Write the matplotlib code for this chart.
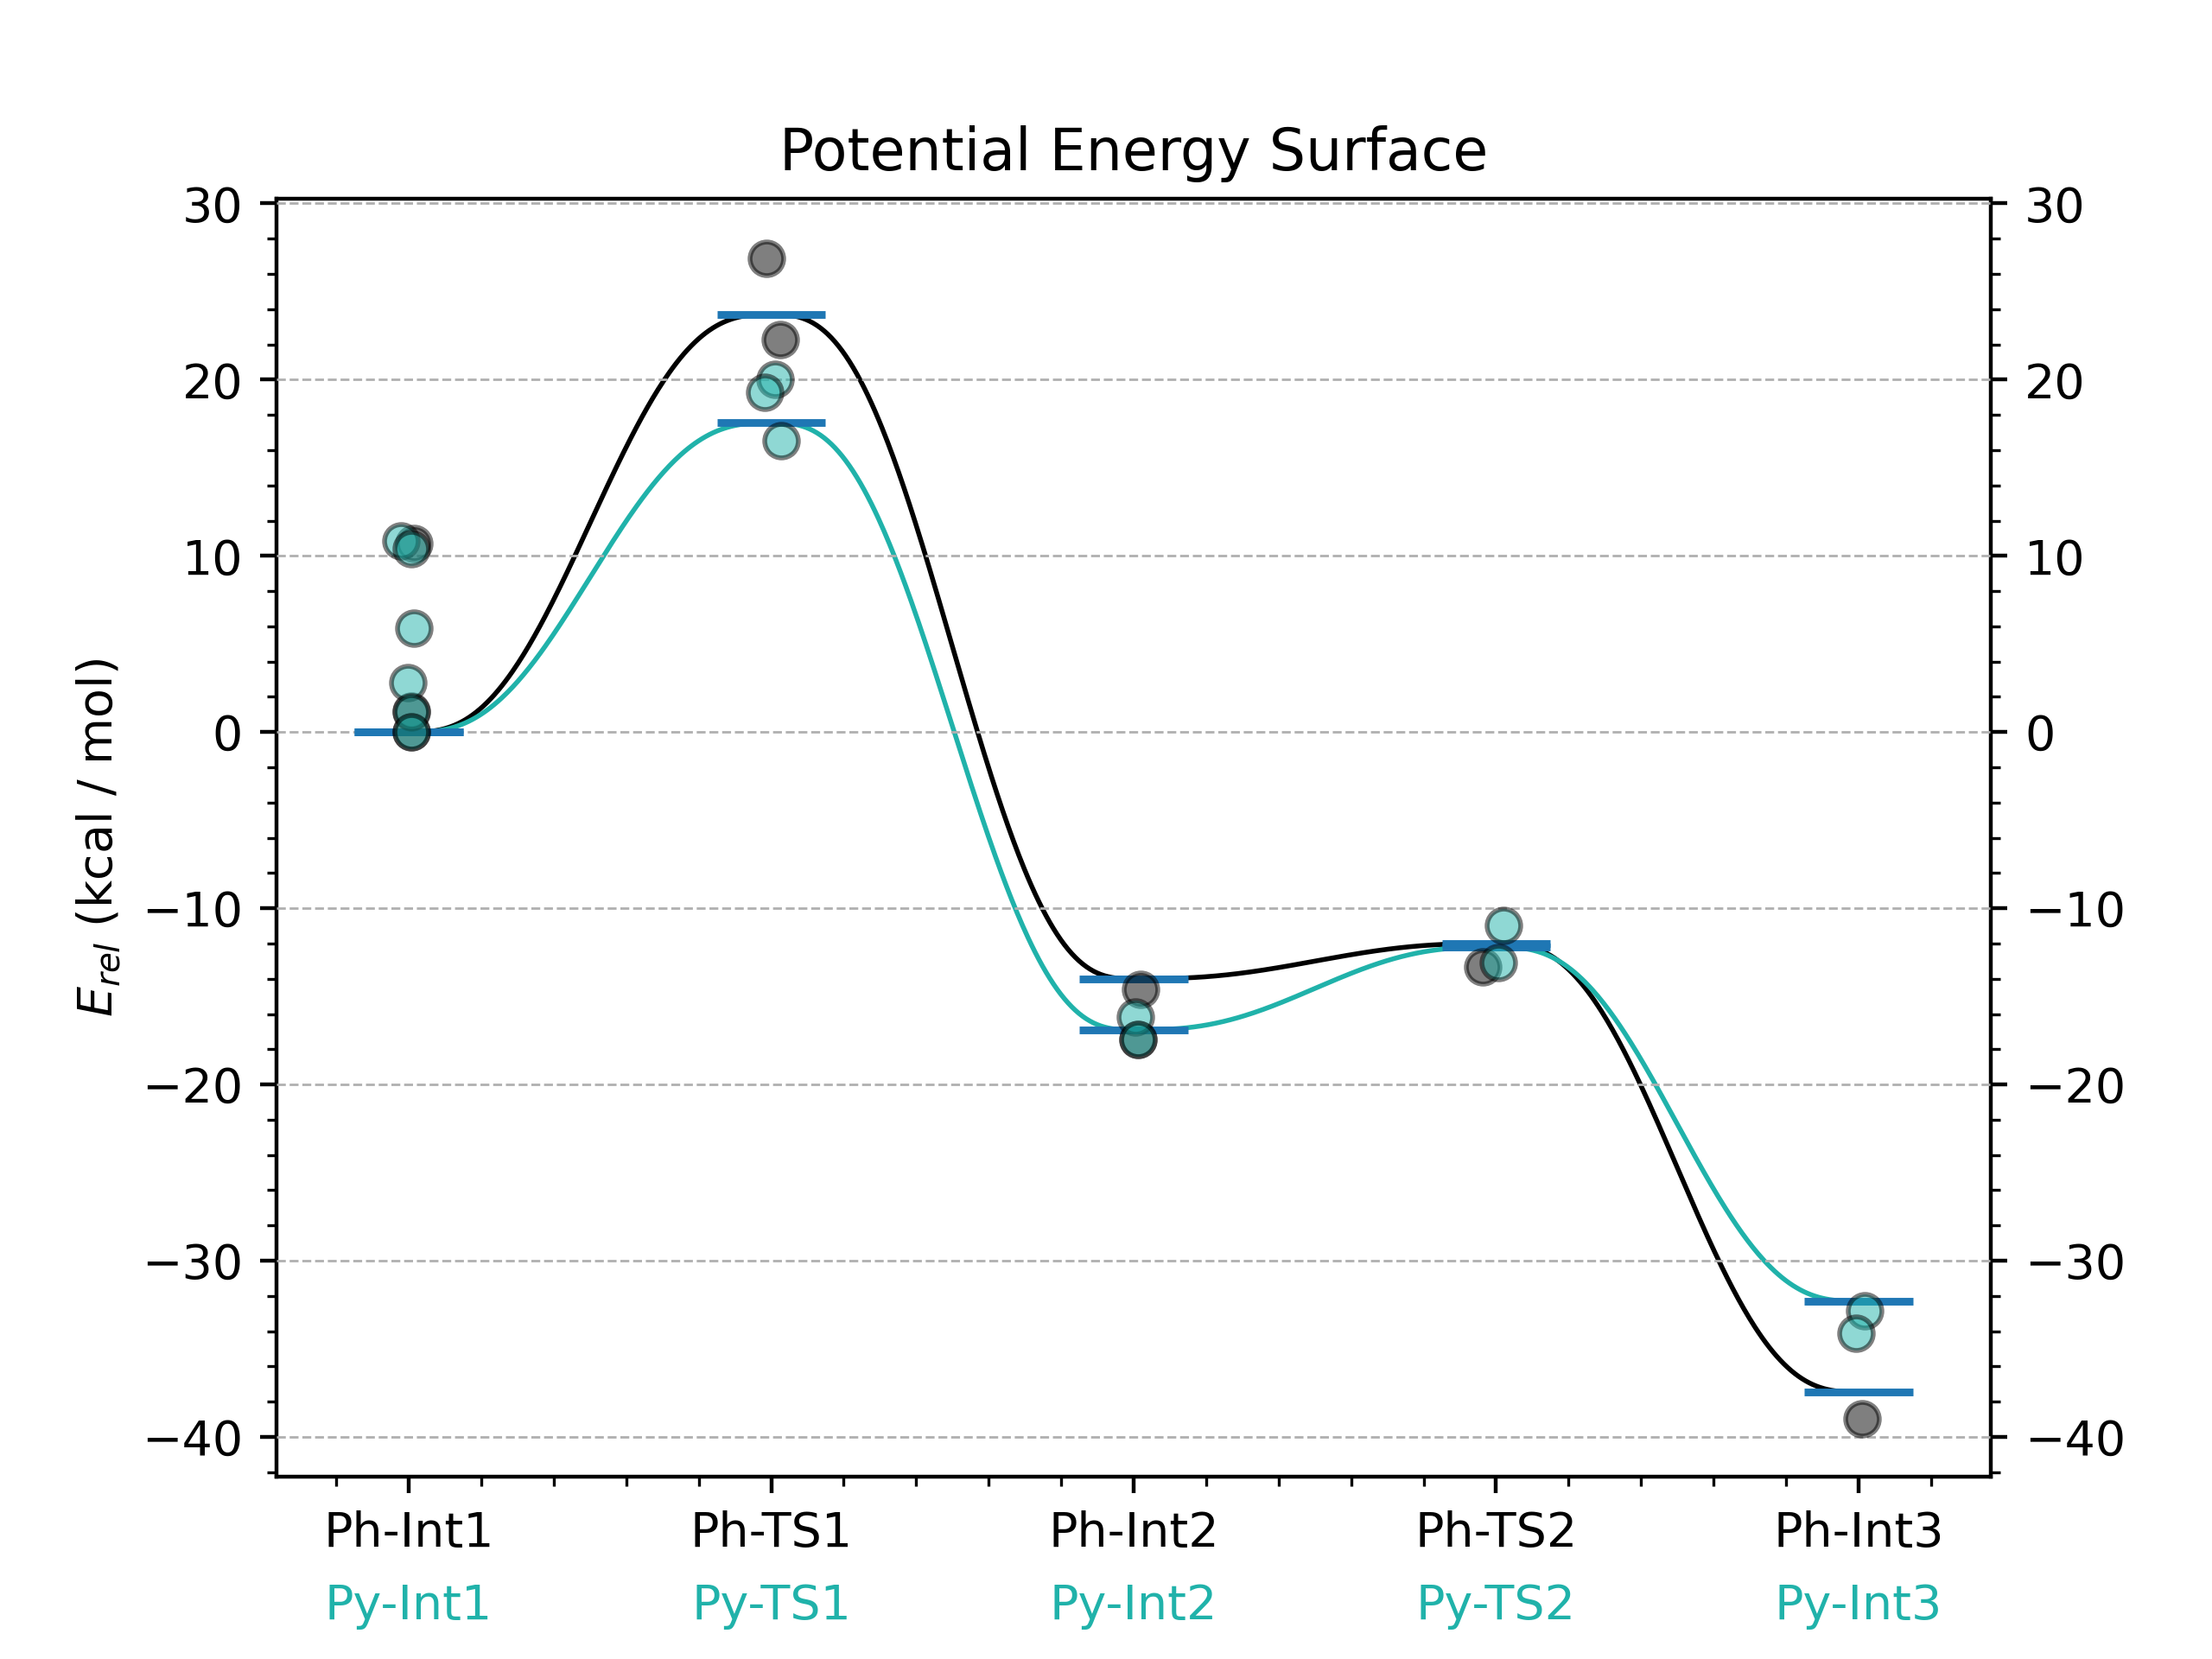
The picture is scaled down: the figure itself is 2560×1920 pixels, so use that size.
import numpy as np
import matplotlib
matplotlib.use("Agg")
import matplotlib.pyplot as plt
from matplotlib.ticker import MultipleLocator

# ---------------- data ----------------
ph_labels = ["Ph-Int1", "Ph-TS1", "Ph-Int2", "Ph-TS2", "Ph-Int3"]
py_labels = ["Py-Int1", "Py-TS1", "Py-Int2", "Py-TS2", "Py-Int3"]

# lowest (reference) energies of each stationary point (kcal/mol)
ph_levels = [0.0, 23.7, -14.0, -12.0, -37.45]
py_levels = [0.0, 17.55, -16.9, -12.2, -32.3]

# individual conformer energies: state index, small horizontal jitter, energy
ph_pts_state = [0, 0, 0, 1, 1, 2, 2, 3, 4]
ph_pts_jitter = [0.015, 0.008, 0.008, -0.014, 0.024, 0.018, 0.011, -0.037, 0.010]
ph_pts_energy = [10.7, 1.2, 0.0, 26.9, 22.3, -14.6, -17.45, -13.35, -38.95]

py_pts_state = [0, 0, 0, 0, 0, 0, 1, 1, 1, 2, 2, 3, 3, 4, 4]
py_pts_jitter = [-0.022, 0.008, 0.013, -0.003, 0.008, 0.008,
                 0.010, -0.019, 0.027, 0.005, 0.011, 0.020, 0.006, 0.017, -0.006]
py_pts_energy = [10.85, 10.4, 5.9, 2.8, 1.15, 0.0,
                 20.0, 19.3, 16.55, -16.15, -17.45, -10.95, -13.1, -32.85, -34.1]

PH_COLOR = "black"
PY_COLOR = "lightseagreen"
BAR_COLOR = "tab:blue"


def pes_curve(levels, n=200):
    """Smooth connection between consecutive stationary points."""
    xs, ys = [], []
    for i in range(len(levels) - 1):
        t = np.linspace(0.0, 1.0, n)
        s = 6 * t**5 - 15 * t**4 + 10 * t**3
        xs.append(i + t)
        ys.append(levels[i] + (levels[i + 1] - levels[i]) * s)
    return np.concatenate(xs), np.concatenate(ys)


fig = plt.figure(figsize=(6.4, 4.8), dpi=400)
ax = fig.add_subplot(111)
ax.set_axisbelow(False)

# curves
for levels, col in ((ph_levels, PH_COLOR), (py_levels, PY_COLOR)):
    cx, cy = pes_curve(levels)
    ax.plot(cx, cy, color=col, lw=1.0, zorder=2)

# level bars
xs = np.arange(len(ph_labels))
for levels in (ph_levels, py_levels):
    ax.hlines(levels, xs - 0.15, xs + 0.15, color=BAR_COLOR, lw=1.6, zorder=2.6)

# conformer points
ph_x = np.array(ph_pts_state) + np.array(ph_pts_jitter)
py_x = np.array(py_pts_state) + np.array(py_pts_jitter)
ax.plot(ph_x, ph_pts_energy, "o", ms=7, mfc=PH_COLOR, mec="black", mew=1.0,
        alpha=0.5, zorder=3)
ax.plot(py_x, py_pts_energy, "o", ms=7, mfc=PY_COLOR, mec="black", mew=1.0,
        alpha=0.5, zorder=3)

# axes limits and ticks
ax.set_xlim(-0.365, 4.365)
ax.set_ylim(-42.25, 30.25)
ax.set_xticks(xs)
ax.set_xticklabels(ph_labels)
ax.xaxis.set_minor_locator(MultipleLocator(0.2))
ax.yaxis.set_major_locator(MultipleLocator(10))
ax.yaxis.set_minor_locator(MultipleLocator(2))
ax.tick_params(axis="y", which="both", right=True, labelright=True)

for x, lab in zip(xs, py_labels):
    ax.annotate(lab, xy=(x, 0), xycoords=("data", "axes fraction"),
                xytext=(0, -27), textcoords="offset points",
                ha="center", va="center", color=PY_COLOR, fontsize=10)

ax.grid(axis="y", which="major", linestyle="--", color="#b0b0b0", lw=0.5)

ax.set_ylabel(r"$E_{rel}$ (kcal / mol)")
ax.set_title("Potential Energy Surface")

fig.savefig("out.png", dpi=400)
